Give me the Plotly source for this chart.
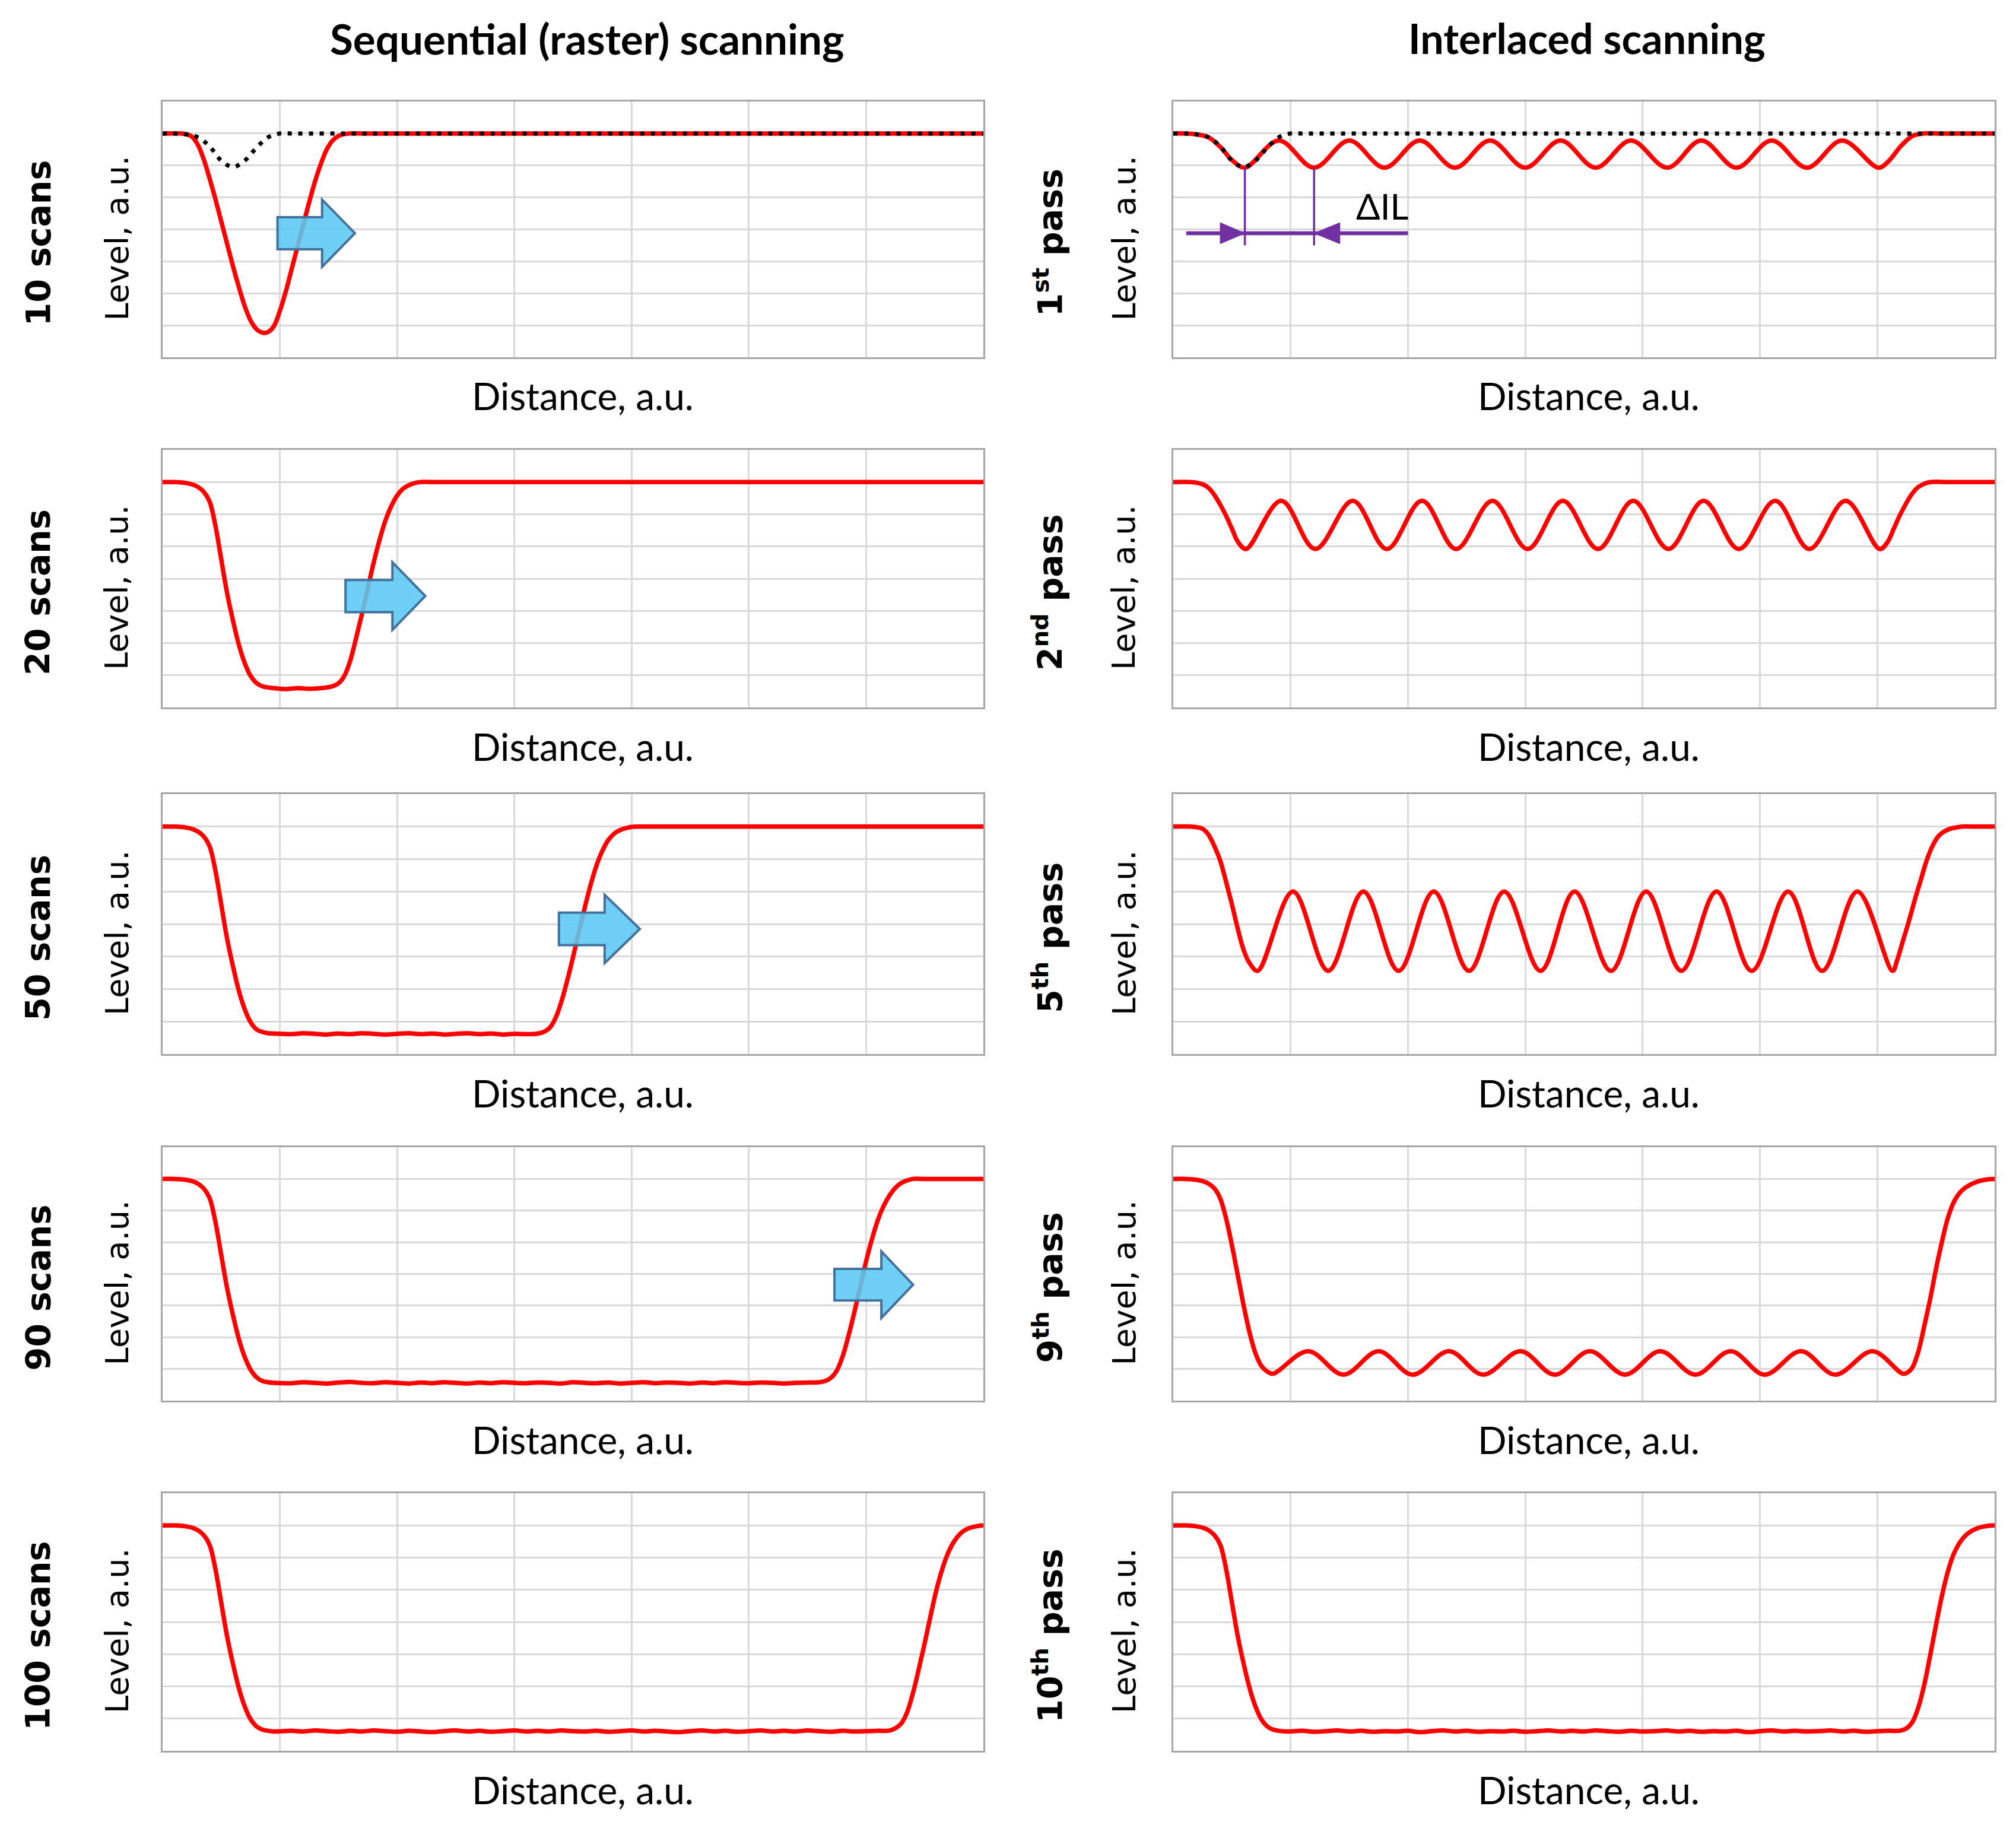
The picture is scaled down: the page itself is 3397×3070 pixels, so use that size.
import plotly.graph_objects as go

# ---- data (x: 7 grid columns of 10, y: 8 grid rows of 1) ----
# sequential (raster) scanning
seq10_x = [0, 1.5, 2.0, 2.5, 3.0, 3.5, 4.0, 4.5, 5.0, 5.5, 6.0, 6.5, 7.0, 7.5, 8.0, 8.35, 8.7, 9.05,
           9.5, 10.0, 10.5, 11.0, 11.5, 12.0, 12.5, 13.0, 13.5, 14.0, 14.5, 15.0, 15.5, 16.0, 17.0, 70]
seq10_y = [7.0, 7.0, 6.98, 6.9, 6.65, 6.2, 5.6, 4.95, 4.25, 3.55, 2.85, 2.2, 1.6, 1.15, 0.88, 0.79, 0.76,
           0.8, 0.98, 1.45, 2.05, 2.75, 3.45, 4.15, 4.85, 5.5, 6.05, 6.5, 6.78, 6.92, 6.98, 7.0, 7.0, 7.0]

single_pass_x = [0, 1.8, 3.0, 4.0, 5.0, 6.0, 7.0, 8.0, 9.0, 10.0, 11.0, 70]
single_pass_y = [7.0, 6.98, 6.88, 6.6, 6.15, 5.95, 6.15, 6.55, 6.88, 7.0, 7.0, 7.0]

seq20_x = [0, 1.0, 1.5, 2.0, 2.5, 3.0, 3.5, 4.0, 4.5, 5.0, 5.5, 6.0, 6.5, 7.0, 7.5, 8.0, 8.5, 9.0, 9.5,
           10.5, 11.5, 12.5, 13.5, 14.0, 14.5, 15.0, 15.5, 16.0, 16.5, 17.0, 17.5, 18.0, 18.5, 19.0,
           19.5, 20.0, 20.5, 21.0, 21.5, 22.0, 23.0, 70]
seq20_y = [7.0, 7.0, 6.99, 6.97, 6.93, 6.85, 6.7, 6.4, 5.65, 4.6, 3.55, 2.7, 1.95, 1.38, 0.98, 0.76, 0.66,
           0.62, 0.6, 0.57, 0.6, 0.58, 0.6, 0.62, 0.66, 0.75, 0.98, 1.45, 2.15, 2.9, 3.7, 4.5, 5.2,
           5.8, 6.25, 6.58, 6.79, 6.9, 6.97, 7.0, 7.0, 7.0]

seq50_x = [0, 1.0, 1.5, 2.0, 2.5, 3.0, 3.5, 4.0, 4.5, 5.0, 5.5, 6.0, 6.5, 7.0, 7.5, 8.0, 8.5, 9.0, 9.5,
           11, 12, 13, 14, 15, 16, 17, 18, 19, 20, 21, 22, 23, 24, 25, 26, 27, 28, 29, 30, 31, 32.0,
           32.5, 33.0, 33.5, 34.0, 34.5, 35.0, 35.5, 36.0, 36.5, 37.0, 37.5, 38.0, 38.5, 39.0, 39.5,
           40.0, 41.0, 70]
seq50_y = [7.0, 7.0, 6.99, 6.97, 6.93, 6.85, 6.7, 6.4, 5.65, 4.6, 3.55, 2.7, 1.95, 1.38, 0.98, 0.76, 0.68,
           0.64, 0.63, 0.61, 0.64, 0.62, 0.6, 0.63, 0.61, 0.64, 0.62, 0.6, 0.62, 0.64, 0.61, 0.63, 0.6,
           0.62, 0.64, 0.61, 0.63, 0.6, 0.62, 0.61, 0.63, 0.68, 0.8, 1.1, 1.6, 2.25, 2.98, 3.75, 4.5,
           5.2, 5.8, 6.25, 6.58, 6.78, 6.89, 6.95, 6.99, 7.0, 7.0]

seq90_x = [0, 1.0, 1.5, 2.0, 2.5, 3.0, 3.5, 4.0, 4.5, 5.0, 5.5, 6.0, 6.5, 7.0, 7.5, 8.0, 8.5, 9.0, 9.5,
           11, 12, 13, 14, 15, 16, 17, 18, 19, 20, 21, 22, 23, 24, 25, 26, 27, 28, 29, 30, 31, 32, 33,
           34, 35, 36, 37, 38, 39, 40, 41, 42, 43, 44, 45, 46, 47, 48, 49, 50, 51, 52, 53, 54, 55,
           56.0, 56.5, 57.0, 57.5, 58.0, 58.5, 59.0, 59.5, 60.0, 60.5, 61.0, 61.5, 62.0, 62.5, 63.0,
           63.5, 64.0, 65.0, 70]
seq90_y = [7.0, 7.0, 6.99, 6.97, 6.93, 6.85, 6.7, 6.4, 5.65, 4.6, 3.55, 2.7, 1.95, 1.38, 0.98, 0.74, 0.62,
           0.58, 0.56,
           0.55, 0.58, 0.56, 0.54, 0.57, 0.59, 0.56, 0.55, 0.58, 0.56, 0.54, 0.57, 0.55, 0.58, 0.56,
           0.54, 0.57, 0.55, 0.58, 0.56, 0.55, 0.57, 0.56, 0.54, 0.58, 0.56, 0.55, 0.57, 0.54, 0.56,
           0.58, 0.55, 0.57, 0.56, 0.54, 0.57, 0.55, 0.58, 0.56, 0.55, 0.57, 0.56, 0.54, 0.56, 0.57,
           0.58, 0.62, 0.72, 0.95, 1.4, 2.05, 2.8, 3.6, 4.4, 5.1, 5.7, 6.15, 6.48, 6.72, 6.87, 6.95,
           7.0, 7.0, 7.0]

seq100_x = [0, 1.0, 1.5, 2.0, 2.5, 3.0, 3.5, 4.0, 4.5, 5.0, 5.5, 6.0, 6.5, 7.0, 7.5, 8.0, 8.5, 9.0, 9.5,
            11, 12, 13, 14, 15, 16, 17, 18, 19, 20, 21, 22, 23, 24, 25, 26, 27, 28, 29, 30, 31, 32,
            33, 34, 35, 36, 37, 38, 39, 40, 41, 42, 43, 44, 45, 46, 47, 48, 49, 50, 51, 52, 53, 54,
            55, 56, 57, 58, 59, 60, 61, 62.0, 62.5, 63.0, 63.5, 64.0, 64.5, 65.0, 65.5, 66.0, 66.5,
            67.0, 67.5, 68.0, 68.5, 69.0, 69.5, 70]
seq100_y = [7.0, 7.0, 6.99, 6.97, 6.93, 6.85, 6.7, 6.4, 5.65, 4.6, 3.55, 2.7, 1.95, 1.38, 0.98, 0.76, 0.66,
            0.62, 0.6,
            0.62, 0.6, 0.63, 0.61, 0.59, 0.62, 0.6, 0.63, 0.61, 0.59, 0.62, 0.6, 0.58, 0.61, 0.63,
            0.6, 0.62, 0.59, 0.61, 0.63, 0.6, 0.62, 0.6, 0.63, 0.61, 0.6, 0.62, 0.59, 0.61, 0.63, 0.6,
            0.62, 0.6, 0.58, 0.61, 0.63, 0.6, 0.62, 0.59, 0.61, 0.63, 0.6, 0.62, 0.6, 0.63, 0.61, 0.59,
            0.62, 0.6, 0.61, 0.62,
            0.63, 0.7, 0.85, 1.2, 1.8, 2.55, 3.35, 4.2, 5.0, 5.65, 6.15, 6.5, 6.73, 6.87, 6.94, 6.98,
            7.0]

# interlaced scanning
pass1_x = [0, 1.8, 3.0, 4.0, 5.0, 6.1, 9.0, 12.0, 15.0, 18.0, 21.0, 24.0, 27.0, 30.0, 33.0, 36.0, 39.0,
           42.1, 45.0, 48.0, 51.0, 54.0, 57.0, 60.1, 61.0, 62.0, 63.0, 64.0, 65.5, 70]
pass1_y = [7.0, 6.98, 6.88, 6.58, 6.17, 5.93, 6.78, 5.93, 6.78, 5.93, 6.78, 5.93, 6.78, 5.93, 6.78, 5.93,
           6.78, 5.93, 6.78, 5.93, 6.78, 5.93, 6.78, 5.93, 6.15, 6.6, 6.92, 7.0, 7.0, 7.0]

pass2_x = [0, 1.5, 2.0, 2.5, 3.0, 3.5, 4.0, 4.5, 5.0, 5.5, 6.2, 9.2, 12.1, 15.3, 18.2, 21.2, 24.1, 27.2,
           30.2, 33.2, 36.2, 39.2, 42.2, 45.2, 48.2, 51.3, 54.2, 57.3, 60.2, 60.9, 61.4, 61.9, 62.4,
           62.9, 63.4, 63.9, 64.5, 66, 70]
pass2_y = [7.0, 7.0, 6.98, 6.93, 6.82, 6.6, 6.3, 5.95, 5.55, 5.15, 4.92, 6.42, 4.92, 6.42, 4.92, 6.42,
           4.92, 6.42, 4.92, 6.42, 4.92, 6.42, 4.92, 6.42, 4.92, 6.42, 4.92, 6.42, 4.92, 5.15, 5.55,
           5.95, 6.3, 6.6, 6.82, 6.93, 7.0, 7.0, 7.0]

pass5_x = [0, 1.5, 2.0, 2.5, 3.0, 3.5, 4.0, 4.5, 5.0, 5.5, 6.0, 6.5, 7.2, 10.2, 13.2, 16.2, 19.2, 22.2,
           25.2, 28.2, 31.3, 34.2, 37.3, 40.3, 43.3, 46.3, 49.3, 52.4, 55.3, 58.3, 61.3, 61.7, 62.2,
           62.7, 63.2, 63.7, 64.2, 64.7, 65.2, 65.7, 66.2, 66.7, 67.2, 68.5, 70]
pass5_y = [7.0, 7.0, 6.98, 6.93, 6.75, 6.4, 5.95, 5.3, 4.6, 3.85, 3.2, 2.8, 2.56, 5.0, 2.56, 5.0, 2.56,
           5.0, 2.56, 5.0, 2.56, 5.0, 2.56, 5.0, 2.56, 5.0, 2.56, 5.0, 2.56, 5.0, 2.56, 2.9, 3.5, 4.1,
           4.75, 5.35, 5.95, 6.4, 6.7, 6.85, 6.93, 6.97, 7.0, 7.0, 7.0]

pass9_x = [0, 1.0, 1.5, 2.0, 2.5, 3.0, 3.5, 4.0, 4.5, 5.0, 5.5, 6.0, 6.5, 7.0, 7.5, 8.0, 8.5, 11.5, 14.5,
           17.5, 20.4, 23.5, 26.4, 29.6, 32.5, 35.5, 38.5, 41.5, 44.5, 47.5, 50.4, 53.5, 56.4, 59.6,
           62.2, 62.7, 63.0, 63.5, 64.0, 64.5, 65.0, 65.5, 66.0, 66.5, 67.0, 67.5, 68.0, 68.5, 69.0,
           69.5, 70]
pass9_y = [7.0, 7.0, 6.99, 6.97, 6.93, 6.85, 6.7, 6.38, 5.75, 4.9, 3.95, 3.0, 2.15, 1.5, 1.1, 0.92, 0.85,
           1.56, 0.82, 1.56, 0.82, 1.56, 0.82, 1.56, 0.82, 1.56, 0.82, 1.56, 0.82, 1.56, 0.82, 1.56,
           0.82, 1.56, 0.85, 0.92, 1.05, 1.55, 2.35, 3.2, 4.15, 5.0, 5.75, 6.25, 6.55, 6.72, 6.83,
           6.91, 6.96, 6.99, 7.0]

pass10_x = [0, 1.0, 1.5, 2.0, 2.5, 3.0, 3.5, 4.0, 4.5, 5.0, 5.5, 6.0, 6.5, 7.0, 7.5, 8.0, 8.5, 9.0, 9.7,
            11, 12, 13, 14, 15, 16, 17, 18, 19, 20, 21, 22, 23, 24, 25, 26, 27, 28, 29, 30, 31, 32,
            33, 34, 35, 36, 37, 38, 39, 40, 41, 42, 43, 44, 45, 46, 47, 48, 49, 50, 51, 52, 53, 54,
            55, 56, 57, 58, 59, 60, 61, 62.0, 62.5, 63.0, 63.5, 64.0, 64.5, 65.0, 65.5, 66.0, 66.5,
            67.0, 67.5, 68.0, 68.5, 69.0, 69.5, 70]
pass10_y = [7.0, 7.0, 6.99, 6.97, 6.93, 6.85, 6.7, 6.4, 5.65, 4.6, 3.55, 2.7, 1.95, 1.38, 0.98, 0.76, 0.66,
            0.62, 0.6,
            0.62, 0.59, 0.61, 0.63, 0.6, 0.62, 0.59, 0.61, 0.6, 0.62, 0.58, 0.61, 0.63, 0.6, 0.62,
            0.59, 0.61, 0.6, 0.62, 0.59, 0.61, 0.63, 0.6, 0.62, 0.6, 0.63, 0.61, 0.59, 0.62, 0.6, 0.61,
            0.63, 0.6, 0.62, 0.59, 0.61, 0.6, 0.62, 0.58, 0.61, 0.63, 0.6, 0.62, 0.6, 0.61, 0.63, 0.6,
            0.62, 0.59, 0.61, 0.62,
            0.63, 0.7, 0.9, 1.35, 2.05, 2.95, 3.9, 4.8, 5.55, 6.1, 6.45, 6.68, 6.82, 6.91, 6.96, 6.99,
            7.0]

seq_labels = ["10 scans", "20 scans", "50 scans", "90 scans", "100 scans"]
pass_labels = ["1<sup>st</sup> pass", "2<sup>nd</sup> pass", "5<sup>th</sup> pass",
               "9<sup>th</sup> pass", "10<sup>th</sup> pass"]
seq_curves = [(seq10_x, seq10_y), (seq20_x, seq20_y), (seq50_x, seq50_y),
              (seq90_x, seq90_y), (seq100_x, seq100_y)]
pass_curves = [(pass1_x, pass1_y), (pass2_x, pass2_y), (pass5_x, pass5_y),
               (pass9_x, pass9_y), (pass10_x, pass10_y)]

for cx, cy in seq_curves + pass_curves + [(single_pass_x, single_pass_y)]:
    assert len(cx) == len(cy), (len(cx), len(cy))

# blue "scan direction" arrows on the sequential panels: row, tail x, shaft end x, tip x, centre y
scan_arrows = [(0, 9.8, 13.6, 16.4, 3.88), (1, 15.6, 19.6, 22.4, 3.46),
               (2, 33.8, 37.7, 40.7, 3.85), (3, 57.3, 61.3, 64.0, 3.66)]

# delta IL marker on the 1st pass panel
dil_dips = [6.1, 12.0]

# ---- layout ----
W, H = 3397, 3070
col_px = [(266, 1649), (1969, 3353)]
row_px = [(163, 594), (750, 1184), (1330, 1768), (1925, 2352), (2508, 2942)]
RED = "#FF0000"
GRID = "#D9D9D9"
FRAME = "#A6A6A6"
PURPLE = "#7030A0"


def fx(px):
    return px / W


def fy(px):
    return 1 - px / H


def ax_names(k):
    s = "" if k == 1 else str(k)
    return "xaxis" + s, "yaxis" + s, "x" + s, "y" + s


fig = go.Figure()
layout = {}
annotations = []
shapes = []

for r in range(5):
    for c in range(2):
        k = 2 * r + c + 1
        xa, ya, xr, yr = ax_names(k)
        x0, x1 = col_px[c]
        t, b = row_px[r]
        layout[xa] = dict(domain=[fx(x0), fx(x1)], anchor=yr, range=[0, 70], dtick=10,
                          showgrid=True, gridcolor=GRID, gridwidth=3, zeroline=False,
                          showticklabels=False, ticks="", showline=True, mirror=True,
                          linecolor=FRAME, linewidth=3, fixedrange=True)
        layout[ya] = dict(domain=[fy(b), fy(t)], anchor=xr, range=[0, 8], dtick=1,
                          showgrid=True, gridcolor=GRID, gridwidth=3, zeroline=False,
                          showticklabels=False, ticks="", showline=True, mirror=True,
                          linecolor=FRAME, linewidth=3, fixedrange=True)

        cx, cy = (seq_curves if c == 0 else pass_curves)[r]
        fig.add_trace(go.Scatter(x=cx, y=cy, mode="lines", xaxis=xr, yaxis=yr,
                                 line=dict(color=RED, width=7.5, shape="spline"),
                                 showlegend=False, hoverinfo="skip"))
        if r == 0:
            fig.add_trace(go.Scatter(x=single_pass_x, y=single_pass_y, mode="lines", xaxis=xr, yaxis=yr,
                                     line=dict(color="black", width=7, dash="7px,11px", shape="spline"),
                                     showlegend=False, hoverinfo="skip"))

        mid = (t + b) / 2
        lab_x = [56, 1758][c]
        lev_x = [189, 1886][c]
        dist_x = [974, 2669][c]
        annotations.append(dict(x=fx(lab_x), y=fy(mid + 23), xref="paper", yref="paper",
                                text="<b>" + (seq_labels if c == 0 else pass_labels)[r] + "</b>",
                                textangle=-90, showarrow=False, xanchor="center", yanchor="middle",
                                font=dict(family="DejaVu Sans", size=57, color="black")))
        annotations.append(dict(x=fx(lev_x), y=fy(mid + 15), xref="paper", yref="paper",
                                text="Level, a.u.", textangle=-90, showarrow=False,
                                xanchor="center", yanchor="middle",
                                font=dict(family="DejaVu Sans", size=54, color="black")))
        annotations.append(dict(x=fx(dist_x), y=fy(b + 65), xref="paper", yref="paper",
                                text="Distance, a.u.", showarrow=False,
                                xanchor="center", yanchor="middle",
                                font=dict(family="Lato", size=64, color="black")))

# column titles
annotations.append(dict(x=fx(981), y=fy(56), xref="paper", yref="paper",
                        text="<b>Sequential (raster) scanning</b>", showarrow=False,
                        xanchor="center", yanchor="middle",
                        font=dict(family="Lato", size=71, color="black")))
annotations.append(dict(x=fx(2666), y=fy(56), xref="paper", yref="paper",
                        text="<b>Interlaced scanning</b>", showarrow=False,
                        xanchor="center", yanchor="middle",
                        font=dict(family="Lato", size=70, color="black")))

# blue block arrows
for r, xt0, xs, xtip, yc in scan_arrows:
    k = 2 * r + 1
    _, _, xr, yr = ax_names(k)
    sh, hh = 0.5, 1.05
    path = (f"M {xt0},{yc - sh} L {xs},{yc - sh} L {xs},{yc - hh} L {xtip},{yc} "
            f"L {xs},{yc + hh} L {xs},{yc + sh} L {xt0},{yc + sh} Z")
    shapes.append(dict(type="path", path=path, xref=xr, yref=yr, layer="above",
                       fillcolor="rgba(91,200,242,0.88)", line=dict(color="#41719C", width=4)))

# delta IL marker (1st pass panel)
xr, yr = "x2", "y2"
yh = 3.88
for d in dil_dips:
    shapes.append(dict(type="line", x0=d, x1=d, y0=5.93, y1=3.5, xref=xr, yref=yr,
                       line=dict(color=PURPLE, width=3.5), layer="above"))
shapes.append(dict(type="line", x0=1.1, x1=20.0, y0=yh, y1=yh, xref=xr, yref=yr,
                   line=dict(color=PURPLE, width=6.5), layer="above"))
shapes.append(dict(type="path", xref=xr, yref=yr, layer="above", fillcolor=PURPLE,
                   line=dict(color=PURPLE, width=1),
                   path=f"M {dil_dips[0] - 2.1},{yh - 0.33} L {dil_dips[0]},{yh} L {dil_dips[0] - 2.1},{yh + 0.33} Z"))
shapes.append(dict(type="path", xref=xr, yref=yr, layer="above", fillcolor=PURPLE,
                   line=dict(color=PURPLE, width=1),
                   path=f"M {dil_dips[1] + 2.2},{yh - 0.33} L {dil_dips[1]},{yh} L {dil_dips[1] + 2.2},{yh + 0.33} Z"))
annotations.append(dict(x=17.8, y=4.73, xref=xr, yref=yr, text="ΔIL", showarrow=False,
                        xanchor="center", yanchor="middle",
                        font=dict(family="Lato", size=60, color="black")))

fig.update_layout(width=W, height=H, autosize=False, margin=dict(l=0, r=0, t=0, b=0),
                  paper_bgcolor="white", plot_bgcolor="white", showlegend=False,
                  annotations=annotations, shapes=shapes, **layout)

fig.write_html("out.html")
